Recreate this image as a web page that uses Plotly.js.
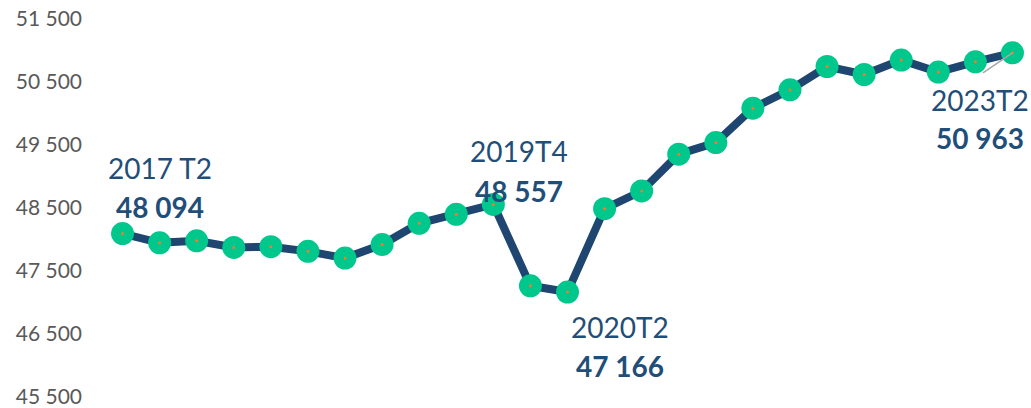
<!DOCTYPE html>
<html><head><meta charset="utf-8">
<script src="https://cdn.plot.ly/plotly-3.0.1.min.js"></script>
<style>html,body{margin:0;padding:0;background:#fff}#c{width:1031px;height:408px}</style>
</head><body><div id="c"></div>
<script>
const quarters = ["2017T2","2017T3","2017T4","2018T1","2018T2","2018T3","2018T4","2019T1","2019T2","2019T3","2019T4","2020T1","2020T2","2020T3","2020T4","2021T1","2021T2","2021T3","2021T4","2022T1","2022T2","2022T3","2022T4","2023T1","2023T2"];
const values = [48094,47948,47980,47875,47885,47812,47705,47920,48257,48400,48557,47265,47166,48489,48770,49355,49538,50085,50376,50746,50619,50848,50657,50821,50963];
const yTicks = [45500,46500,47500,48500,49500,50500,51500];
const yTickText = ["45 500","46 500","47 500","48 500","49 500","50 500","51 500"];
const labelNames = {"2017T2":"2017 T2","2019T4":"2019T4","2020T2":"2020T2","2023T2":"2023T2"};

const fmt = v => String(v).replace(/\B(?=(\d{3})+(?!\d))/g, " ");
const idx = q => quarters.indexOf(q);
const navy = "#1F4571", txt = "#1F4E79";
const FONT = "Lato, 'Open Sans', sans-serif";

const offsets = {
  "2017T2": {dx: 37, dy1: 66, dy2: 27},
  "2019T4": {dx: 26, dy1: 53, dy2: 13},
  "2020T2": {dx: 52, dy1: -35, dy2: -74},
  "2023T2": {dx: -32, dy1: -47, dy2: -85}
};
const annotations = [];
Object.keys(offsets).forEach(q => {
  const i = idx(q), o = offsets[q];
  annotations.push({x: i, y: values[i], xref: "x", yref: "y", text: labelNames[q], showarrow: false,
    xshift: o.dx, yshift: o.dy1, font: {family: FONT, size: 28, color: txt}});
  annotations.push({x: i, y: values[i], xref: "x", yref: "y", text: "<b>" + fmt(values[i]) + "</b>", showarrow: false,
    xshift: o.dx, yshift: o.dy2, font: {family: FONT, size: 28, color: txt}});
});
// leader line for last label
const li = quarters.length - 1;
annotations.push({x: li, y: values[li], xref: "x", yref: "y", text: "", showarrow: true, arrowhead: 0,
  arrowwidth: 1.5, arrowcolor: "#A6A6A6", ax: -31, ay: 21, standoff: 0, startstandoff: 0});

const xs = quarters.map((q, i) => i);
const traces = [
  {x: xs, y: values, type: "scatter", mode: "lines+markers",
   line: {color: navy, width: 8},
   marker: {color: "#00C78C", size: 23, line: {width: 0}}, hoverinfo: "y"},
  {x: xs, y: values, type: "scatter", mode: "markers",
   marker: {color: "#ED7D31", size: 3, line: {width: 0}}, hoverinfo: "skip"}
];
const layout = {
  width: 1031, height: 408,
  margin: {l: 104, r: 0, t: 19, b: 11},
  showlegend: false,
  paper_bgcolor: "#fff", plot_bgcolor: "#fff",
  xaxis: {range: [-0.5, quarters.length - 0.5], visible: false, fixedrange: true},
  yaxis: {range: [45500, 51500], tickvals: yTicks, ticktext: yTickText, showgrid: false, zeroline: false,
    showline: false, ticks: "", ticklabelstandoff: 21, ticklabeloverflow: "allow",
    tickfont: {family: FONT, size: 21, color: "#595959"}},
  annotations: annotations
};
Plotly.newPlot("c", traces, layout, {displayModeBar: false, staticPlot: true});
</script></body></html>
